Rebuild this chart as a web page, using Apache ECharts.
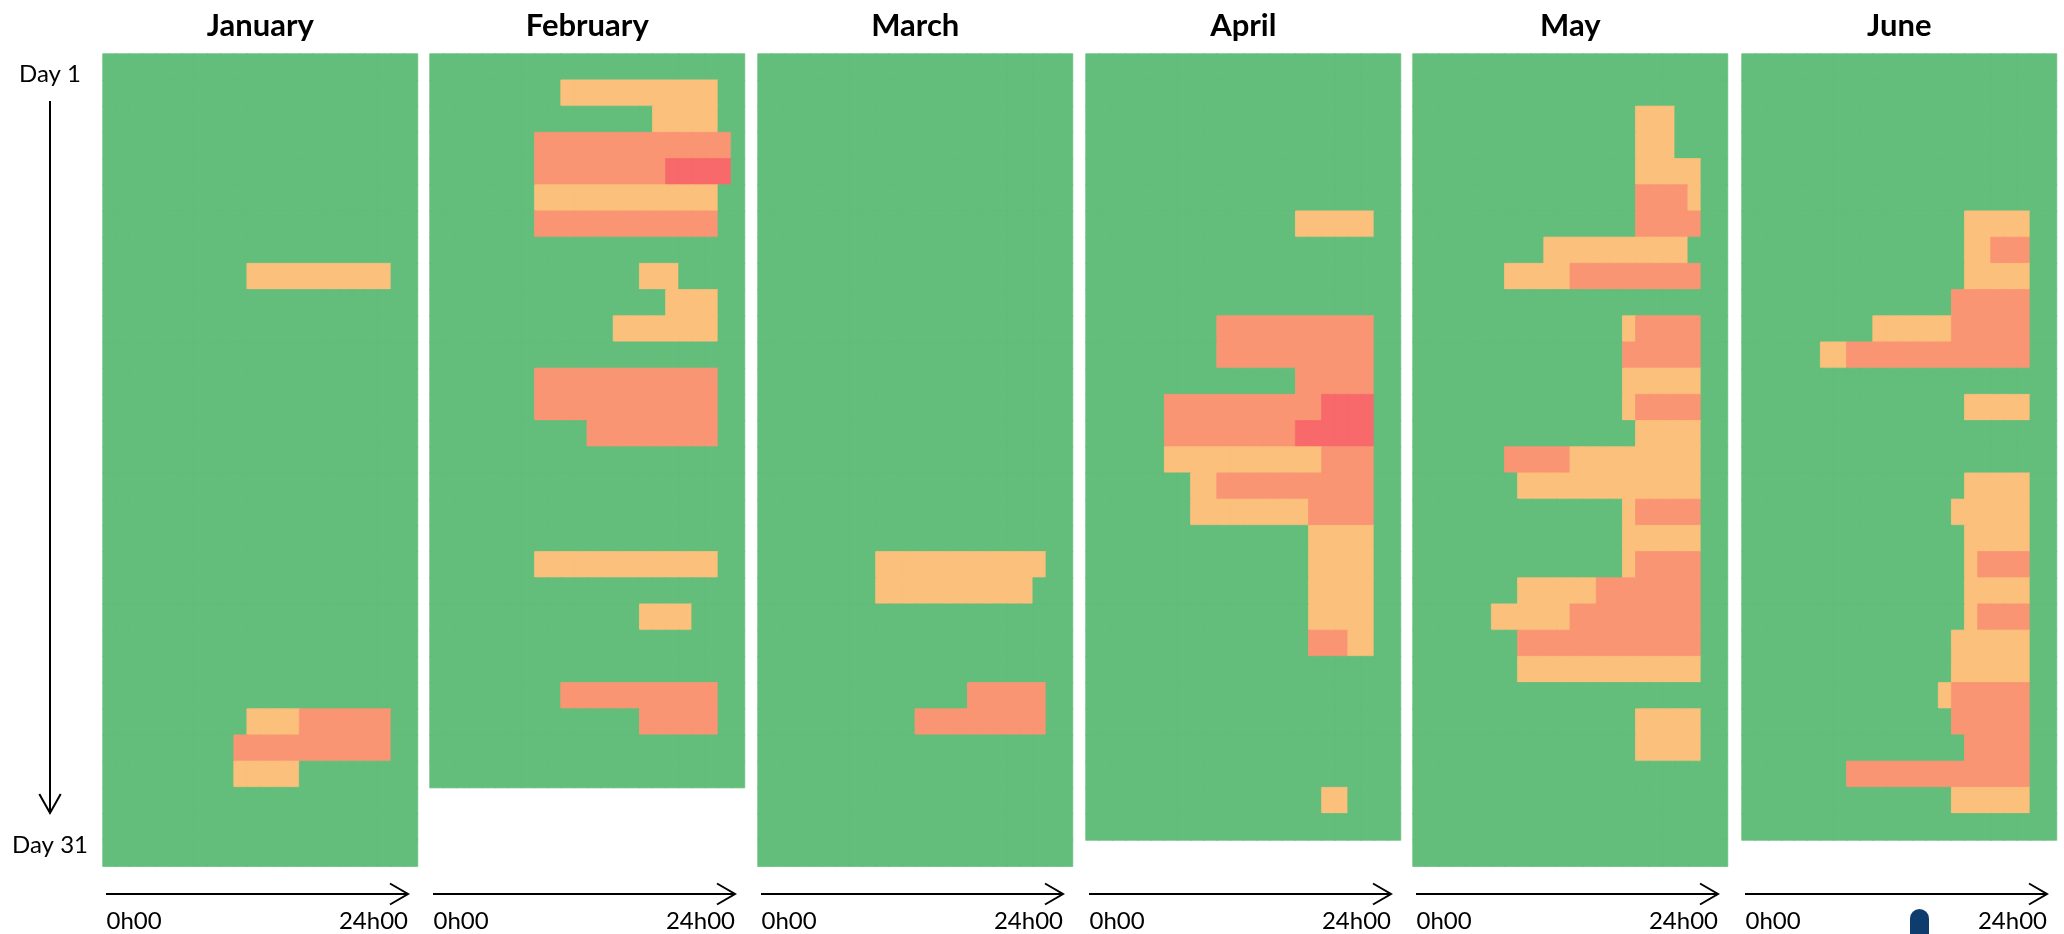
<!DOCTYPE html>
<html>
<head>
<meta charset="utf-8">
<script src="https://cdn.jsdelivr.net/npm/echarts@6/dist/echarts.min.js"></script>
<style>
html,body{margin:0;padding:0;background:#ffffff;}
#chart{width:2064px;height:934px;}
</style>
</head>
<body>
<div id="chart"></div>
<script>
// ---------- data ----------
const months = ['January', 'February', 'March', 'April', 'May', 'June'];
const daysInMonth = [31, 28, 31, 30, 31, 30];
const hours = [0,1,2,3,4,5,6,7,8,9,10,11,12,13,14,15,16,17,18,19,20,21,22,23];
const dayLabels = ['Day 1', 'Day 31'];
const hourLabels = ['0h00', '24h00'];
// level 0 = green (default), 1 = orange, 2 = salmon, 3 = red
// bands: [day, fromHour, toHour (inclusive), level]
const janBands = [
  [9,11,21,1],
  [26,11,14,1],[26,15,21,2],
  [27,10,21,2],
  [28,10,14,1]
];
const febBands = [
  [2,10,21,1],[3,17,21,1],
  [4,8,22,2],
  [5,8,17,2],[5,18,22,3],
  [6,8,21,1],[7,8,21,2],
  [9,16,18,1],[10,18,21,1],[11,14,21,1],
  [13,8,21,2],[14,8,21,2],[15,12,21,2],
  [20,8,21,1],[22,16,19,1],
  [25,10,21,2],[26,16,21,2]
];
const marBands = [
  [20,9,21,1],[21,9,20,1],
  [25,16,21,2],[26,12,21,2]
];
const aprBands = [
  [7,16,21,1],
  [11,10,21,2],[12,10,21,2],[13,16,21,2],
  [14,6,17,2],[14,18,21,3],
  [15,6,15,2],[15,16,21,3],
  [16,6,17,1],[16,18,21,2],
  [17,8,9,1],[17,10,21,2],
  [18,8,16,1],[18,17,21,2],
  [19,17,21,1],[20,17,21,1],[21,17,21,1],[22,17,21,1],
  [23,17,19,2],[23,20,21,1],
  [29,18,19,1]
];
const mayBands = [
  [3,17,19,1],[4,17,19,1],[5,17,21,1],
  [6,17,20,2],[6,21,21,1],
  [7,17,21,2],
  [8,10,20,1],
  [9,7,11,1],[9,12,21,2],
  [11,16,16,1],[11,17,21,2],
  [12,16,21,2],[13,16,21,1],
  [14,16,16,1],[14,17,21,2],
  [15,17,21,1],
  [16,7,11,2],[16,12,21,1],
  [17,8,21,1],
  [18,16,16,1],[18,17,21,2],
  [19,16,21,1],
  [20,16,16,1],[20,17,21,2],
  [21,8,13,1],[21,14,21,2],
  [22,6,11,1],[22,12,21,2],
  [23,8,21,2],[24,8,21,1],
  [26,17,21,1],[27,17,21,1]
];
const junBands = [
  [7,17,21,1],
  [8,17,18,1],[8,19,21,2],
  [9,17,21,1],
  [10,16,21,2],
  [11,10,15,1],[11,16,21,2],
  [12,6,7,1],[12,8,21,2],
  [14,17,21,1],
  [17,17,21,1],[18,16,21,1],[19,17,21,1],
  [20,17,17,1],[20,18,21,2],
  [21,17,21,1],
  [22,17,17,1],[22,18,21,2],
  [23,16,21,1],[24,16,21,1],
  [25,15,15,1],[25,16,21,2],
  [26,16,21,2],[27,17,21,2],[28,8,21,2],
  [29,16,21,1]
];
const monthBands = [janBands, febBands, marBands, aprBands, mayBands, junBands];

// ---------- style ----------
const levelColors = ['#63BE7B', '#FBC07B', '#FA9574', '#F8696B'];
const panelLeft = [103, 430, 758, 1086, 1413, 1742];
const panelW = 314.5;
const panelTop = 54;
const rowH = 26.2;
const FONT = 'Lato, "Open Sans", "DejaVu Sans", sans-serif';

function buildCells(bands, nDays) {
  const out = [];
  for (let d = 1; d <= nDays; d++) {
    for (const h of hours) {
      let lvl = 0;
      for (const b of bands) {
        if (b[0] === d && h >= b[1] && h <= b[2]) lvl = b[3];
      }
      const c = levelColors[lvl];
      out.push({ value: [h, d - 1, lvl], itemStyle: { color: c, borderColor: c, borderWidth: 0.8 } });
    }
  }
  return out;
}

const grids = [], xAxes = [], yAxes = [], series = [], graphics = [];
months.forEach((m, i) => {
  const n = daysInMonth[i];
  const days = [];
  for (let d = 1; d <= n; d++) days.push(String(d));
  grids.push({ left: panelLeft[i], top: panelTop, width: panelW, height: n * rowH, show: false });
  xAxes.push({ type: 'category', gridIndex: i, data: hours.map(String), show: false, boundaryGap: true });
  yAxes.push({ type: 'category', gridIndex: i, data: days, inverse: true, show: false, boundaryGap: true });
  series.push({
    type: 'heatmap', name: m, xAxisIndex: i, yAxisIndex: i,
    data: buildCells(monthBands[i], n),
    emphasis: { disabled: true }, progressive: 0, animation: false
  });
  const L = panelLeft[i];
  graphics.push({
    type: 'text', x: L + panelW / 2, y: 26,
    style: { text: m, font: 'bold 31px ' + FONT, fill: '#000', textAlign: 'center', textVerticalAlign: 'middle', align: 'center', verticalAlign: 'middle' }
  });
  graphics.push({ type: 'line', shape: { x1: L + 3, y1: 894, x2: L + 305, y2: 894 }, style: { stroke: '#000', lineWidth: 2 } });
  graphics.push({ type: 'polyline', shape: { points: [[L + 287, 883.5], [L + 305, 894], [L + 287, 904.5]] }, style: { stroke: '#000', lineWidth: 2, fill: null } });
  graphics.push({
    type: 'text', x: L + 3.5, y: 921,
    style: { text: hourLabels[0], font: '24px ' + FONT, fill: '#000', textAlign: 'left', textVerticalAlign: 'middle', align: 'left', verticalAlign: 'middle' }
  });
  graphics.push({
    type: 'text', x: L + panelW - 9.5, y: 921,
    style: { text: hourLabels[1], font: '24px ' + FONT, fill: '#000', textAlign: 'right', textVerticalAlign: 'middle', align: 'right', verticalAlign: 'middle' }
  });
});

// vertical day arrow
graphics.push({ type: 'line', shape: { x1: 50, y1: 101, x2: 50, y2: 812 }, style: { stroke: '#000', lineWidth: 2 } });
graphics.push({ type: 'polyline', shape: { points: [[39.3, 794], [50, 813], [60.7, 794]] }, style: { stroke: '#000', lineWidth: 2, fill: null } });
graphics.push({
  type: 'text', x: 50, y: 74,
  style: { text: dayLabels[0], font: '24px ' + FONT, fill: '#000', textAlign: 'center', textVerticalAlign: 'middle', align: 'center', verticalAlign: 'middle' }
});
graphics.push({
  type: 'text', x: 50, y: 845,
  style: { text: dayLabels[1], font: '24px ' + FONT, fill: '#000', textAlign: 'center', textVerticalAlign: 'middle', align: 'center', verticalAlign: 'middle' }
});
// small dark marker at bottom of June panel
graphics.push({ type: 'rect', shape: { x: 1910, y: 909, width: 19, height: 30, r: [9.5, 9.5, 0, 0] }, style: { fill: '#0E3C6C' } });

const chart = echarts.init(document.getElementById('chart'), null, { renderer: 'canvas' });
chart.setOption({
  backgroundColor: '#ffffff',
  animation: false,
  grid: grids,
  xAxis: xAxes,
  yAxis: yAxes,
  series: series,
  graphic: { elements: graphics }
});
</script>
</body>
</html>
